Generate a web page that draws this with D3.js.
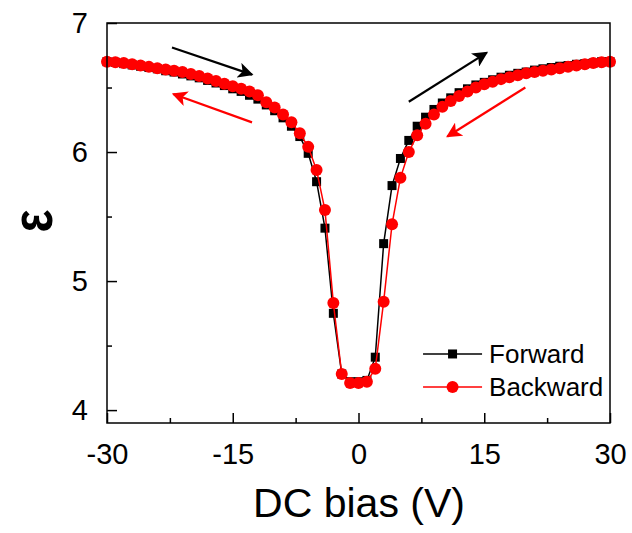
<!DOCTYPE html>
<html>
<head>
<meta charset="utf-8">
<script src="https://cdn.jsdelivr.net/npm/d3@7"></script>
<style>
  body { margin: 0; background: #fff; }
  text { font-family: "Liberation Sans", Arial, sans-serif; fill: #000; }
</style>
</head>
<body>
<div id="chart"></div>
<script>
// bias voltages (V), one reading per volt
var bias = d3.range(-30, 31, 1);

// forward sweep
var forward = [
  6.70, 6.695, 6.685, 6.675, 6.665, 6.655, 6.645, 6.63, 6.62, 6.605,
  6.59, 6.575, 6.555, 6.535, 6.515, 6.49, 6.47, 6.44, 6.41, 6.365,
  6.32, 6.265, 6.20, 6.12, 5.99, 5.77, 5.41, 4.75, 4.28, 4.22,
  4.22,
  4.23, 4.41, 5.29, 5.74, 5.95, 6.09, 6.20, 6.27, 6.33, 6.38,
  6.42, 6.46, 6.49, 6.52, 6.54, 6.56, 6.58, 6.595, 6.61, 6.62,
  6.635, 6.645, 6.655, 6.665, 6.67, 6.68, 6.685, 6.69, 6.70, 6.70
];

// backward sweep
var backward = [
  6.70, 6.695, 6.69, 6.68, 6.67, 6.66, 6.65, 6.64, 6.63, 6.62,
  6.605, 6.59, 6.57, 6.55, 6.53, 6.51, 6.49, 6.47, 6.44, 6.385,
  6.345, 6.29, 6.23, 6.145, 6.04, 5.86, 5.55, 4.83, 4.28, 4.21,
  4.21,
  4.22, 4.32, 4.84, 5.44, 5.80, 6.00, 6.13, 6.22, 6.29, 6.35,
  6.395, 6.435, 6.47, 6.50, 6.525, 6.545, 6.565, 6.58, 6.595, 6.61,
  6.62, 6.63, 6.64, 6.65, 6.66, 6.67, 6.68, 6.69, 6.695, 6.70
];

var xTicks = [-30, -15, 0, 15, 30];
var xMinor = [-22.5, -7.5, 7.5, 22.5];
var yTicks = [4, 5, 6, 7];
var yMinor = [4.5, 5.5, 6.5];

// sweep direction arrows, in data units [x1, y1, x2, y2]
var arrowsFwd = [[-22.25, 6.81, -12.7, 6.60], [6.0, 6.39, 15.3, 6.77]];
var arrowsBwd = [[-12.7, 6.23, -22.1, 6.45], [19.9, 6.50, 10.6, 6.12]];

var W = 632, H = 533;
var margin = {top: 23, right: 22, bottom: 110, left: 107};
var width = W - margin.left - margin.right,
    height = H - margin.top - margin.bottom;

var svg = d3.select("#chart").append("svg")
    .attr("width", W).attr("height", H);

var defs = svg.append("defs");
[["headK", "#000"], ["headR", "#ff0000"]].forEach(function(m) {
  defs.append("marker")
      .attr("id", m[0])
      .attr("viewBox", "0 0 10 10")
      .attr("refX", 9).attr("refY", 5)
      .attr("markerWidth", 7).attr("markerHeight", 7)
      .attr("markerUnits", "strokeWidth")
      .attr("orient", "auto")
    .append("path")
      .attr("d", "M0,0 L10,5 L0,10 L2.5,5 Z")
      .attr("fill", m[1]);
});

var g = svg.append("g")
    .attr("transform", "translate(" + margin.left + "," + margin.top + ")");

var x = d3.scaleLinear().domain([-30, 30]).range([0, width]);
var y = d3.scaleLinear().domain([3.9, 7]).range([height, 0]);

// plain hyphen for negatives, like the original
var fmt = function(d) { return String(d); };

// ticks inside the frame
var xAxis = d3.axisBottom(x).tickValues(xTicks).tickSizeInner(-10).tickSizeOuter(0)
    .tickPadding(20).tickFormat(fmt);
var xAxisMinor = d3.axisBottom(x).tickValues(xMinor).tickSizeInner(-5).tickSizeOuter(0)
    .tickFormat("");
var yAxis = d3.axisLeft(y).tickValues(yTicks).tickSizeInner(-10).tickSizeOuter(0)
    .tickPadding(19).tickFormat(fmt);
var yAxisMinor = d3.axisLeft(y).tickValues(yMinor).tickSizeInner(-5).tickSizeOuter(0)
    .tickFormat("");

function styleAxis(sel) {
  sel.select(".domain").remove();
  sel.selectAll("line").attr("stroke", "#000").attr("stroke-width", 1.5);
  sel.selectAll("text").style("font-size", "29px").style("font-family", "Liberation Sans, Arial, sans-serif");
}

g.append("g").attr("transform", "translate(0," + height + ")").call(xAxis).call(styleAxis);
g.append("g").attr("transform", "translate(0," + height + ")").call(xAxisMinor).call(styleAxis);
g.append("g").call(yAxis).call(styleAxis);
g.append("g").call(yAxisMinor).call(styleAxis);

g.selectAll(".tick text").attr("fill", "#000");

var fwdData = bias.map(function(v, i) { return {v: v, e: forward[i]}; });
var bwdData = bias.map(function(v, i) { return {v: v, e: backward[i]}; });

var line = d3.line()
    .x(function(d) { return x(d.v); })
    .y(function(d) { return y(d.e); });

var plot = g.append("g");

// forward: black squares
plot.append("path").datum(fwdData)
    .attr("d", line).attr("fill", "none")
    .attr("stroke", "#000").attr("stroke-width", 1.5);
plot.selectAll(".sq").data(fwdData).enter().append("rect")
    .attr("class", "sq")
    .attr("x", function(d) { return x(d.v) - 4.5; })
    .attr("y", function(d) { return y(d.e) - 4.5; })
    .attr("width", 9).attr("height", 9)
    .attr("fill", "#000");

// backward: red circles
plot.append("path").datum(bwdData)
    .attr("d", line).attr("fill", "none")
    .attr("stroke", "#ff0000").attr("stroke-width", 1.5);
plot.selectAll(".ci").data(bwdData).enter().append("circle")
    .attr("class", "ci")
    .attr("cx", function(d) { return x(d.v); })
    .attr("cy", function(d) { return y(d.e); })
    .attr("r", 6)
    .attr("fill", "#ff0000");

// arrows
function drawArrows(list, color, marker) {
  g.selectAll(null).data(list).enter().append("line")
      .attr("x1", function(d) { return x(d[0]); })
      .attr("y1", function(d) { return y(d[1]); })
      .attr("x2", function(d) { return x(d[2]); })
      .attr("y2", function(d) { return y(d[3]); })
      .attr("stroke", color).attr("stroke-width", 2.2)
      .attr("marker-end", "url(#" + marker + ")");
}
drawArrows(arrowsFwd, "#000", "headK");
drawArrows(arrowsBwd, "#ff0000", "headR");

// frame
g.append("rect")
    .attr("width", width).attr("height", height)
    .attr("fill", "none").attr("stroke", "#000").attr("stroke-width", 1.5);

// legend
var legend = g.append("g").attr("transform", "translate(" + (x(7.7)) + "," + (y(4.435)) + ")");
var items = [
  {name: "Forward", color: "#000", shape: "square"},
  {name: "Backward", color: "#ff0000", shape: "circle"}
];
items.forEach(function(it, i) {
  var row = legend.append("g").attr("transform", "translate(0," + (i * 33) + ")");
  row.append("line").attr("x1", 0).attr("x2", 59).attr("y1", 0).attr("y2", 0)
      .attr("stroke", it.color).attr("stroke-width", 1.5);
  if (it.shape === "square") {
    row.append("rect").attr("x", 25).attr("y", -4.5).attr("width", 9).attr("height", 9).attr("fill", it.color);
  } else {
    row.append("circle").attr("cx", 29.5).attr("cy", 0).attr("r", 6).attr("fill", it.color);
  }
  row.append("text").attr("x", 66).attr("y", 0).attr("dy", "0.35em")
      .style("font-size", "26px").text(it.name);
});

// axis titles
svg.append("text")
    .attr("x", 359).attr("y", 517)
    .attr("text-anchor", "middle")
    .style("font-size", "41px")
    .text("DC bias (V)");

svg.append("text")
    .attr("transform", "translate(32,221) rotate(-90) scale(0.85,1)")
    .attr("text-anchor", "middle").attr("dy", "0.35em")
    .style("font-size", "57px").style("font-weight", "bold")
    .text("ε");
</script>
</body>
</html>
